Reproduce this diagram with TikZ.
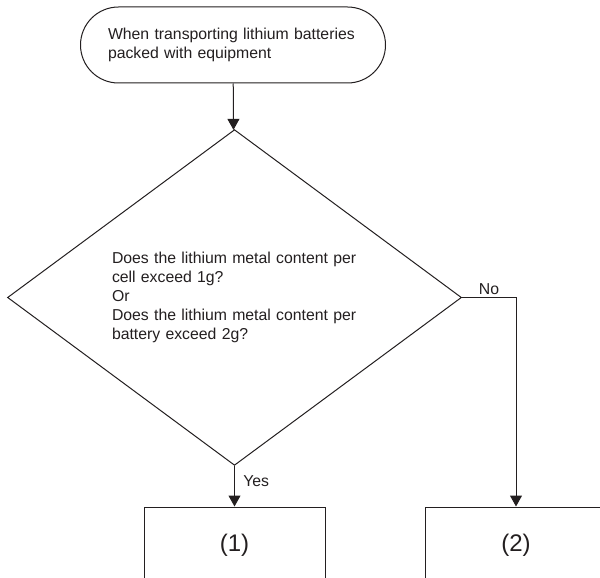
\documentclass[tikz,border=0pt]{standalone}
\usepackage{fontspec}
\setmainfont{Liberation Sans}
\usetikzlibrary{shapes.geometric,arrows.meta}
\definecolor{white}{RGB}{255,255,255}
\definecolor{ink}{RGB}{35,31,32}

\begin{document}
\begin{tikzpicture}[x=1pt,y=-1pt,
	line width=1pt,draw=ink,text=ink,
	every node/.style={font=\fontsize{15.8}{19}\selectfont},
	flow/.style={-{Triangle[width=12pt,length=11pt]},draw=ink,line width=1pt},
	terminal/.style={rectangle,rounded corners=38pt,draw=ink,fill=white,minimum width=305pt,minimum height=76pt,text width=250pt,align=left,inner sep=0pt},
	decision/.style={diamond,draw=ink,fill=white,minimum width=454pt,minimum height=317pt,text width=245pt,align=left,inner sep=0pt},
	outcome/.style={rectangle,draw=ink,fill=white,minimum width=181pt,minimum height=76pt,font=\fontsize{24}{28}\selectfont}]
	\useasboundingbox (0,0) rectangle (600,578);

	\node[terminal] (start) at (233,45) {When transporting lithium batteries\\packed with equipment};
	\node[decision] (lithium) at (234.5,297.5) {Does the lithium metal content per\\cell exceed 1g?\\Or\\Does the lithium metal content per\\battery exceed 2g?};
	\node[outcome] (1) at (234.5,545) {(1)};
	\node[outcome] (2) at (516,545) {(2)};
	\coordinate (turn) at (2 |- lithium.east);

	\draw[flow] (start) -- (lithium);
	\draw[flow] (lithium.south) -- node[right,xshift=5pt,pos=0.38] {Yes} (1.north);
	\draw[flow] (lithium.east) -- node[above,yshift=-1pt] {No} (turn) -- (2.north);
\end{tikzpicture}
\end{document}
